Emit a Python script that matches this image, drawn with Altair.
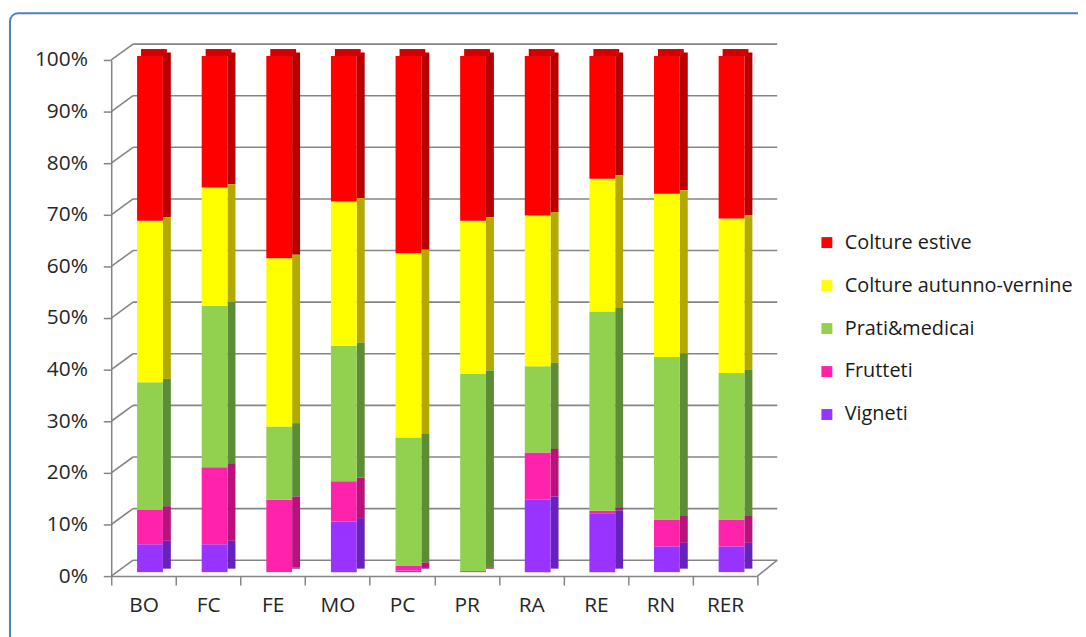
import altair as alt
import pandas as pd

# ---- data (percent of each area) ----
regions = ["BO", "FC", "FE", "MO", "PC", "PR", "RA", "RE", "RN", "RER"]
series = ["Colture estive", "Colture autunno-vernine", "Prati&medicai", "Frutteti", "Vigneti"]
vigneti = [5.4, 5.4, 0.2, 9.8, 0.3, 0.0, 14.0, 11.3, 5.0, 5.0]
frutteti = [6.7, 14.9, 13.8, 7.8, 0.9, 0.2, 9.2, 0.6, 5.2, 5.2]
prati = [24.7, 31.3, 14.2, 26.2, 24.9, 38.2, 16.7, 38.6, 31.5, 28.4]
autunno = [31.3, 22.9, 32.6, 28.0, 35.7, 29.7, 29.2, 25.7, 31.6, 29.9]
estive = [31.9, 25.5, 39.2, 28.2, 38.2, 31.9, 30.9, 23.8, 26.7, 31.5]
y_ticks = [0, 10, 20, 30, 40, 50, 60, 70, 80, 90, 100]

# ---- styling ----
front_colors = ["#FF0000", "#FFFF00", "#92D050", "#FF22AA", "#9933FF"]
side_colors = ["#B80000", "#B3A900", "#5C8C36", "#B8127C", "#6622BB"]
top_colors = ["#D00000", "#D8D800", "#7AB843", "#D81A92", "#7D2AD8"]
FONT = "Open Sans"
FS = 21
LEG_FS = 20
GRID = "#858585"

values_by_series = {
    "Colture estive": estive,
    "Colture autunno-vernine": autunno,
    "Prati&medicai": prati,
    "Frutteti": frutteti,
    "Vigneti": vigneti,
}
rows = []
for s in series:
    for r, v in zip(regions, values_by_series[s]):
        rows.append({"region": r, "series": s, "value": v, "ord": len(series) - 1 - series.index(s)})
df = pd.DataFrame(rows)
grid_df = pd.DataFrame({"v": y_ticks})
floor_df = pd.DataFrame({"v": [0]})

W, H = 651, 520
DEPTH_X, DEPTH_Y = 22, -16

xscale = alt.Scale(domain=regions, paddingInner=0, paddingOuter=0)
yscale = alt.Scale(domain=[0, 100], nice=False)

x_axis = alt.Axis(
    title=None, labelAngle=0, tickBand="extent", tickSize=9, tickColor=GRID, tickWidth=1.5,
    domainColor=GRID, domainWidth=1.5, labelFont=FONT, labelFontSize=FS, labelColor="#262626",
    labelPadding=10, grid=False,
)
y_axis = alt.Axis(
    title=None, values=y_ticks, labelExpr="datum.value + '%'", tickSize=8, tickColor=GRID,
    tickWidth=1.5, domainColor=GRID, domainWidth=1.5, labelFont=FONT, labelFontSize=FS,
    labelColor="#262626", labelPadding=16, grid=False,
)


def X():
    return alt.X("region:N", sort=regions, scale=xscale, axis=x_axis)


def Y(field):
    return alt.Y(field, scale=yscale, axis=y_axis)


base = alt.Chart(df).transform_stack(
    stack="value", groupby=["region"], sort=[alt.SortField("ord", order="ascending")], as_=["y0", "y1"]
)

# back-wall gridlines
grid = alt.Chart(grid_df).mark_rule(color=GRID, strokeWidth=1.6, yOffset=DEPTH_Y).encode(
    y=Y("v:Q"),
    x=alt.value(DEPTH_X),
    x2=alt.value(W + 20),
)
# left-wall diagonals
diag = alt.Chart(grid_df).mark_rule(color=GRID, strokeWidth=1.6, y2Offset=DEPTH_Y).encode(
    y=Y("v:Q"),
    y2="v:Q",
    x=alt.value(0),
    x2=alt.value(DEPTH_X),
)
# floor right edge
floor_edge = alt.Chart(floor_df).mark_rule(color=GRID, strokeWidth=1.6, y2Offset=DEPTH_Y).encode(
    y=Y("v:Q"),
    y2="v:Q",
    x=alt.value(W),
    x2=alt.value(W + 20),
)

side = base.mark_bar(width=8, xOffset=23.5, yOffset=-7.5, y2Offset=-7.5).encode(
    x=X(),
    y=Y("y0:Q"),
    y2="y1:Q",
    color=alt.Color("series:N", scale=alt.Scale(domain=series, range=side_colors), legend=None),
)

top = base.transform_filter(alt.datum.series == "Colture estive").mark_bar(
    width=26, xOffset=10.5, yOffset=-11, y2Offset=-4
).encode(
    x=X(),
    y=Y("y1:Q"),
    y2="y1:Q",
    color=alt.Color("series:N", scale=alt.Scale(domain=series, range=top_colors), legend=None),
)

front = base.mark_bar(width=26, xOffset=6.5, yOffset=-4, y2Offset=-4).encode(
    x=X(),
    y=Y("y0:Q"),
    y2="y1:Q",
    color=alt.Color(
        "series:N",
        scale=alt.Scale(domain=series, range=front_colors),
        legend=alt.Legend(
            title=None, orient="none", legendX=711, legendY=174, symbolType="square",
            symbolSize=121, symbolStrokeWidth=0, labelFont=FONT, labelFontSize=LEG_FS,
            labelColor="#1A1A1A", rowPadding=23.3, labelOffset=8, padding=0, labelLimit=400,
        ),
    ),
    order=alt.Order("ord:Q"),
)

border = alt.Chart(floor_df).mark_rect(
    fillOpacity=0, stroke="#4F81BD", strokeWidth=2, cornerRadius=8
).encode(
    x=alt.value(-102), x2=alt.value(1000), y=alt.value(-47), y2=alt.value(640)
)

chart = alt.layer(border, grid, diag, floor_edge, side, top, front).resolve_scale(
    color="independent"
).properties(
    width=W,
    height=H,
    autosize=alt.AutoSizeParams(type="none"),
    padding={"left": 104, "top": 50, "right": 323, "bottom": 59},
).configure_view(strokeWidth=0)

chart.save("out.html", embed_options={"renderer": "svg", "actions": False})
